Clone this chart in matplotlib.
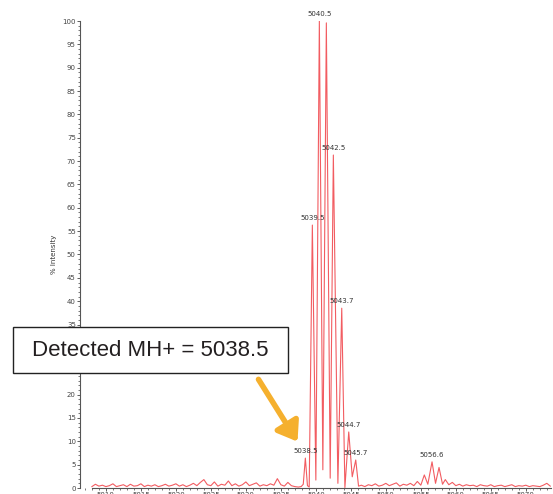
import matplotlib
matplotlib.use("Agg")
import matplotlib.pyplot as plt
from matplotlib.patches import Rectangle, FancyArrowPatch
from matplotlib.ticker import MultipleLocator

# profile data (m/z, % intensity)
mass = [5008, 5008.5, 5009, 5009.5, 5010, 5010.5, 5011, 5011.5, 5012, 5012.5,
        5013, 5013.5, 5014, 5014.5, 5015, 5015.5, 5016, 5016.5, 5017, 5017.5,
        5018, 5018.5, 5019, 5019.5, 5020, 5020.5, 5021, 5021.5, 5022, 5022.5,
        5023, 5023.5, 5024, 5024.5, 5025, 5025.5, 5026, 5026.5, 5027, 5027.5,
        5028, 5028.5, 5029, 5029.5, 5030, 5030.5, 5031, 5031.5, 5032, 5032.5,
        5033, 5033.5, 5034, 5034.5, 5035, 5035.5, 5036, 5036.5, 5037, 5037.5,
        5037.9, 5038.2, 5038.5, 5038.8, 5039.05, 5039.5, 5040.0, 5040.5, 5041.0,
        5041.5, 5042.05, 5042.5, 5043.15, 5043.7, 5044.15, 5044.7, 5045.2, 5045.7,
        5046.1, 5046.5, 5047, 5047.5, 5048, 5048.5, 5049, 5049.5, 5050, 5050.5,
        5051, 5051.5, 5052, 5052.5, 5053, 5053.5, 5054, 5054.5, 5055, 5055.5,
        5056, 5056.6, 5057.1, 5057.6, 5058.1, 5058.5, 5059, 5059.5, 5060, 5060.5,
        5061, 5061.5, 5062, 5062.5, 5063, 5063.5, 5064, 5064.5, 5065, 5065.5,
        5066, 5066.5, 5067, 5067.5, 5068, 5068.5, 5069, 5069.5, 5070, 5070.5,
        5071, 5071.5, 5072, 5072.5, 5073, 5073.5]
intensity = [0.3, 0.8, 0.4, 0.6, 0.3, 0.5, 0.9, 0.3, 0.5, 0.7,
             0.3, 0.8, 0.4, 0.5, 0.9, 0.3, 0.6, 0.4, 0.7, 0.3,
             0.5, 0.8, 0.4, 0.6, 0.9, 0.4, 0.7, 0.3, 0.6, 1.0,
             0.5, 1.2, 1.8, 0.7, 0.5, 1.3, 0.4, 0.8, 0.6, 1.5,
             0.5, 0.9, 0.4, 0.7, 1.3, 0.5, 0.8, 1.1, 0.4, 0.7,
             0.5, 0.9, 0.6, 2.0, 0.7, 0.4, 1.2, 0.5, 0.3, 0.2,
             0.3, 0.8, 6.4, 0.5, 0.2, 56.3, 1.7, 100.0, 3.9,
             99.6, 2.1, 71.3, 1.0, 38.5, 0.1, 12.0, 2.4, 6.0,
             0.4, 0.6, 0.3, 0.7, 0.5, 0.9, 0.4, 0.6, 1.0, 0.5,
             0.8, 1.1, 0.4, 0.8, 0.6, 1.0, 0.5, 1.4, 0.6, 2.8,
             0.8, 5.6, 1.0, 4.4, 0.8, 1.8, 0.7, 1.2, 0.5, 0.8,
             0.4, 0.7, 0.5, 0.6, 0.3, 0.7, 0.5, 0.4, 0.7, 0.3,
             0.5, 0.6, 0.3, 0.5, 0.7, 0.3, 0.5, 0.4, 0.6, 0.3,
             0.5, 0.4, 0.3, 0.6, 1.0, 0.4]

# labelled peaks
peak_mass = [5038.5, 5039.5, 5040.5, 5042.5, 5043.7, 5044.7, 5045.7, 5056.6]
peak_int = [6.4, 56.3, 100.0, 71.3, 38.5, 12.0, 6.0, 5.6]

fig = plt.figure(figsize=(5.53, 4.94), dpi=100)
ax = fig.add_axes([80 / 553, 6 / 494, 471 / 553, 467 / 494])

ax.plot(mass, intensity, color="#f25c61", lw=0.8)

for m, h in zip(peak_mass, peak_int):
    ax.annotate(f"{m:.1f}", xy=(m, h), xytext=(0, 3), textcoords="offset points",
                ha="center", va="bottom", fontsize=5, color="#333333")

ax.set_xlim(5006.3, 5073.6)
ax.set_ylim(0, 100)
ax.yaxis.set_major_locator(MultipleLocator(5))
ax.yaxis.set_minor_locator(MultipleLocator(1))
ax.xaxis.set_major_locator(MultipleLocator(5))
ax.xaxis.set_minor_locator(MultipleLocator(1))
ax.tick_params(which="major", length=2.5, width=0.6, labelsize=5, colors="#444444", pad=0.5)
ax.tick_params(which="minor", length=1.5, width=0.5, colors="#444444")
ax.set_ylabel("% Intensity", fontsize=5, color="#333333", labelpad=4)

for s in ["top", "right"]:
    ax.spines[s].set_visible(False)
for s in ["left", "bottom"]:
    ax.spines[s].set_color("#555555")
    ax.spines[s].set_linewidth(0.8)
ax.spines["bottom"].set_bounds(5008, 5073.6)

# callout box
W, H = 553, 494
box = Rectangle((13 / W, (H - 373) / H), 275 / W, 46 / H, transform=fig.transFigure,
                facecolor="white", edgecolor="#222222", lw=1, zorder=5)
fig.patches.append(box)
fig.text(150 / W, (H - 350) / H, "Detected MH+ = 5038.5", fontsize=16,
         family=["Liberation Sans", "DejaVu Sans"], color="#231f20",
         ha="center", va="center", zorder=7)

arrow = FancyArrowPatch((257 / W, (H - 377) / H), (299 / W, (H - 444) / H),
                        transform=fig.transFigure, arrowstyle="-|>,head_width=0.5,head_length=0.7",
                        mutation_scale=16, lw=4, color="#f5b02e", zorder=6)
fig.patches.append(arrow)

fig.savefig("out.png", dpi=100)
